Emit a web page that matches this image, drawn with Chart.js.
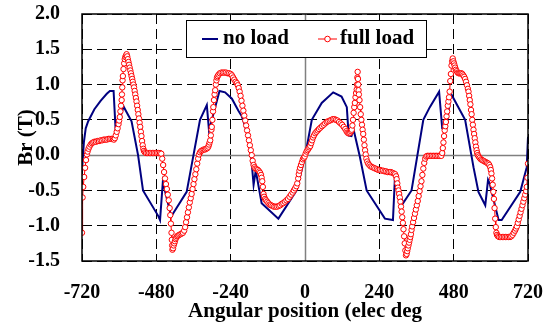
<!DOCTYPE html>
<html>
<head>
<meta charset="utf-8">
<script src="https://cdn.jsdelivr.net/npm/chart.js@4.4.0/dist/chart.umd.min.js"></script>
<style>
html,body{margin:0;padding:0;background:#fff;}
#wrap{width:552px;height:329px;}
</style>
</head>
<body>
<div id="wrap"><canvas id="c" width="552" height="329"></canvas></div>
<script>
// ---- data ----
const seriesNames = ['no load', 'full load'];
const xTicks = [-720, -480, -240, 0, 240, 480, 720];
const yTicks = [-1.5, -1.0, -0.5, 0.0, 0.5, 1.0, 1.5, 2.0];

const noLoadAngle = [-720,-714,-708,-700,-680,-660,-640,-630,-618,-611,-586,-575,-560,-539,-523,-474,-468,-459,-432,-382,
  -339,-317,-310,-276,-258,-236,-215,-204,-194,-177,-166,-159,-140,-86,-27,0,22,54,91,118,
  135,141,150,157,177,199,258,284,290,317,344,382,403,433,443,457,468,474,517,544,
  560,582,591,596,625,635,695,716,720];
const noLoadBr = [-0.22,0.18,0.38,0.48,0.65,0.77,0.87,0.91,0.91,0.32,0.69,0.60,0.48,0.00,-0.50,-0.86,-0.92,-0.38,-0.87,-0.52,
  0.50,0.71,0.35,0.91,0.89,0.80,0.63,0.55,0.42,0.14,-0.42,-0.22,-0.68,-0.90,-0.50,-0.02,0.50,0.74,0.89,0.83,
  0.68,0.28,0.27,0.36,-0.02,-0.50,-0.90,-0.92,-0.35,-0.68,-0.50,0.50,0.68,0.90,0.38,0.38,0.80,0.85,0.50,-0.17,
  -0.52,-0.71,-0.35,-0.40,-0.92,-0.92,-0.52,-0.17,0.26];

const fullLoadAngle = [
  -720,-718,-716,-713,-710,-707,-704,-702,-699,-696,-692,-688,-684,-680,-675,-670,-665,-660,-655,-650,
  -645,-640,-635,-630,-625,-620,-617,-614,-611,-608,-605,-602,-600,-598,-596,-594,-592,-591,-590,-589,
  -588,-586,-584,-582,-580,-578,-576,-574,-572,-570,-568,-566,-564,-562,-560,-558,-556,-554,-552,-550,
  -548,-546,-544,-542,-540,-538,-536,-534,-532,-530,-528,-526,-524,-522,-520,-517,-513,-508,-503,-498,
  -493,-488,-483,-478,-473,-468,-464,-461,-458,-455,-452,-449,-446,-443,-440,-437,-435,-433,-431,-430,
  -429,-428,-426,-424,-422,-420,-418,-416,-413,-410,-406,-402,-398,-394,-390,-387,-384,-381,-378,-375,
  -372,-369,-366,-363,-360,-357,-354,-351,-348,-345,-342,-339,-335,-331,-327,-323,-319,-315,-312,-310,
  -308,-306,-304,-302,-301,-299,-297,-296,-294,-292,-290,-288,-286,-284,-282,-279,-275,-270,-265,-260,
  -255,-250,-245,-240,-236,-232,-228,-224,-220,-217,-214,-211,-208,-205,-202,-199,-196,-193,-190,-187,
  -184,-181,-178,-175,-172,-169,-166,-163,-160,-156,-152,-148,-145,-142,-140,-138,-136,-134,-132,-129,
  -126,-122,-118,-114,-110,-105,-100,-95,-90,-85,-80,-75,-70,-65,-60,-55,-50,-45,-40,-36,
  -32,-28,-25,-22,-20,-18,-16,-13,-10,-7,-4,-1,2,5,8,11,14,17,20,23,
  26,29,33,37,41,45,50,55,60,65,70,75,80,85,90,95,100,105,110,115,
  120,125,130,134,137,140,143,146,149,151,153,155,157,159,161,163,165,167,168,169,
  170,171,172,173,174,176,178,180,182,184,186,188,190,192,194,196,198,201,204,208,
  212,217,222,227,232,237,242,247,252,257,262,267,272,277,282,287,291,294,296,298,
  300,302,304,306,308,310,312,314,316,318,320,322,324,326,328,330,332,334,336,338,
  340,342,344,346,349,352,355,358,361,364,367,370,373,376,379,382,385,388,391,395,
  400,405,410,415,420,425,430,435,440,443,445,447,449,451,453,455,457,459,461,463,
  465,467,469,471,473,475,477,479,481,483,485,487,490,493,496,499,502,505,508,511,
  514,517,520,523,526,528,530,532,534,536,538,540,542,544,546,548,550,552,554,556,
  558,561,564,568,572,576,580,584,588,592,595,598,600,602,604,606,608,610,612,614,
  616,618,620,623,627,632,637,642,647,652,657,662,666,670,674,678,681,684,687,690,
  693,696,699,702,705,708,711,714,716,718,720];
const fullLoadBr = [
  -1.10,-0.60,-0.45,-0.31,-0.18,-0.07,0.01,0.05,0.09,0.12,0.15,0.17,0.18,0.19,0.19,0.20,0.20,0.21,0.21,0.22,
  0.22,0.22,0.23,0.23,0.23,0.23,0.22,0.24,0.28,0.33,0.38,0.44,0.49,0.54,0.62,0.70,0.78,0.86,0.96,1.06,
  1.12,1.22,1.30,1.36,1.39,1.41,1.43,1.40,1.36,1.32,1.28,1.24,1.20,1.16,1.12,1.08,1.04,1.00,0.96,0.91,
  0.86,0.81,0.76,0.70,0.64,0.58,0.52,0.46,0.40,0.33,0.27,0.20,0.14,0.09,0.06,0.04,0.03,0.03,0.03,0.03,
  0.03,0.03,0.03,0.03,0.03,0.03,0.02,-0.05,-0.14,-0.24,-0.33,-0.41,-0.48,-0.56,-0.64,-0.75,-0.85,-0.97,-1.10,-1.20,
  -1.28,-1.34,-1.32,-1.28,-1.25,-1.22,-1.19,-1.17,-1.15,-1.14,-1.13,-1.12,-1.11,-1.10,-1.07,-1.02,-0.95,-0.88,-0.81,-0.74,
  -0.67,-0.61,-0.55,-0.48,-0.41,-0.34,-0.27,-0.20,-0.12,-0.05,0.01,0.04,0.06,0.07,0.08,0.08,0.09,0.10,0.12,0.15,
  0.18,0.21,0.28,0.36,0.40,0.50,0.62,0.68,0.78,0.86,0.92,1.00,1.06,1.10,1.12,1.14,1.16,1.17,1.17,1.17,
  1.17,1.16,1.16,1.15,1.13,1.10,1.07,1.04,1.02,0.99,0.95,0.90,0.84,0.77,0.70,0.63,0.56,0.49,0.42,0.35,
  0.28,0.21,0.14,0.07,0.00,-0.08,-0.14,-0.17,-0.19,-0.20,-0.21,-0.23,-0.25,-0.28,-0.32,-0.37,-0.45,-0.55,-0.59,-0.62,
  -0.64,-0.66,-0.68,-0.70,-0.71,-0.72,-0.73,-0.73,-0.73,-0.72,-0.71,-0.69,-0.68,-0.66,-0.64,-0.62,-0.59,-0.56,-0.53,-0.50,
  -0.47,-0.44,-0.40,-0.33,-0.27,-0.22,-0.18,-0.14,-0.10,-0.06,-0.04,-0.02,0.02,0.05,0.07,0.09,0.11,0.13,0.17,0.21,
  0.25,0.28,0.31,0.33,0.35,0.37,0.39,0.41,0.43,0.45,0.47,0.48,0.49,0.50,0.51,0.51,0.50,0.49,0.47,0.45,
  0.43,0.40,0.37,0.34,0.32,0.31,0.31,0.32,0.34,0.36,0.42,0.50,0.60,0.68,0.74,0.82,0.88,0.93,1.00,1.10,
  1.18,1.08,1.00,0.92,0.86,0.78,0.68,0.58,0.50,0.43,0.36,0.30,0.22,0.14,0.07,0.01,-0.05,-0.09,-0.12,-0.14,
  -0.16,-0.17,-0.18,-0.19,-0.20,-0.21,-0.21,-0.22,-0.22,-0.23,-0.23,-0.24,-0.24,-0.24,-0.25,-0.26,-0.27,-0.30,-0.34,-0.40,
  -0.46,-0.50,-0.55,-0.60,-0.66,-0.73,-0.80,-0.88,-0.96,-1.05,-1.15,-1.25,-1.35,-1.42,-1.40,-1.36,-1.32,-1.28,-1.24,-1.20,
  -1.16,-1.12,-1.06,-1.01,-0.95,-0.89,-0.83,-0.77,-0.71,-0.65,-0.58,-0.51,-0.44,-0.37,-0.28,-0.19,-0.11,-0.05,-0.02,-0.01,
  -0.01,-0.01,-0.01,-0.01,-0.01,-0.01,-0.01,-0.01,-0.01,0.03,0.10,0.18,0.27,0.35,0.41,0.47,0.55,0.62,0.70,0.76,
  0.82,0.90,1.05,1.15,1.27,1.33,1.37,1.33,1.30,1.27,1.24,1.21,1.19,1.17,1.16,1.16,1.16,1.16,1.15,1.13,
  1.11,1.08,1.04,0.99,0.94,0.90,0.84,0.78,0.72,0.64,0.58,0.50,0.43,0.36,0.30,0.24,0.18,0.12,0.07,0.03,
  0.00,-0.02,-0.04,-0.06,-0.07,-0.08,-0.09,-0.10,-0.11,-0.12,-0.14,-0.17,-0.21,-0.26,-0.33,-0.42,-0.52,-0.62,-0.75,-0.90,
  -1.02,-1.10,-1.13,-1.15,-1.16,-1.16,-1.16,-1.16,-1.16,-1.16,-1.16,-1.16,-1.15,-1.13,-1.10,-1.07,-1.04,-1.01,-0.96,-0.91,
  -0.86,-0.81,-0.76,-0.71,-0.66,-0.61,-0.56,-0.51,-0.45,-0.32,-0.12];

const xTitle = 'Angular position (elec deg';
const yTitle = 'Br (T)';

// ---- chart ----
const FONT = "'Liberation Serif', 'Times New Roman', serif";
const toXY = (xs, ys) => xs.map((v, i) => ({x: v, y: ys[i]}));

const decorPlugin = {
  id: 'decor',
  beforeDatasetsDraw(chart) {
    const {ctx, chartArea: a, scales: {x, y}} = chart;
    ctx.save();
    ctx.strokeStyle = '#808080';
    ctx.lineWidth = 1.5;
    const x0 = Math.round(x.getPixelForValue(0)) + 0.5;
    const y0 = Math.round(y.getPixelForValue(0)) + 0.5;
    ctx.beginPath();
    ctx.moveTo(x0, a.top); ctx.lineTo(x0, a.bottom);
    ctx.moveTo(a.left, y0); ctx.lineTo(a.right, y0);
    ctx.stroke();
    ctx.restore();
  },
  afterDatasetsDraw(chart) {
    const {ctx, chartArea: a} = chart;
    ctx.save();
    ctx.strokeStyle = '#000';
    ctx.lineWidth = 1.5;
    ctx.strokeRect(a.left, a.top, a.right - a.left, a.bottom - a.top);
    ctx.restore();
  },
  afterDraw(chart) {
    const {ctx} = chart;
    const ds = chart.data.datasets;
    ctx.save();
    const bx = 186.5, by = 20.5, bw = 240, bh = 37;
    ctx.fillStyle = '#fff';
    ctx.fillRect(bx, by, bw, bh);
    ctx.strokeStyle = '#000';
    ctx.lineWidth = 1;
    ctx.strokeRect(bx, by, bw, bh);
    const cy = 39;
    ctx.font = 'bold 21px ' + FONT;
    ctx.textBaseline = 'middle';
    ctx.fillStyle = '#000';
    ctx.strokeStyle = ds[0].borderColor;
    ctx.lineWidth = 2;
    ctx.beginPath(); ctx.moveTo(202, cy); ctx.lineTo(218, cy); ctx.stroke();
    ctx.fillText(ds[0].label, 223, cy);
    ctx.strokeStyle = ds[1].borderColor;
    ctx.lineWidth = 1;
    ctx.beginPath(); ctx.moveTo(318, cy); ctx.lineTo(337, cy); ctx.stroke();
    ctx.beginPath(); ctx.arc(327.5, cy, 2.8, 0, Math.PI * 2);
    ctx.fillStyle = '#fff'; ctx.fill(); ctx.stroke();
    ctx.fillStyle = '#000';
    ctx.fillText(ds[1].label, 340, cy);
    ctx.restore();
  }
};

const zeroPad = (s) => { s.paddingTop = 0; s.paddingBottom = 0; s.paddingLeft = 0; s.paddingRight = 0; };

new Chart(document.getElementById('c'), {
  type: 'line',
  data: {
    datasets: [
      {
        label: seriesNames[0],
        data: toXY(noLoadAngle, noLoadBr),
        borderColor: '#000080',
        borderWidth: 2,
        pointRadius: 0,
        tension: 0,
        order: 1
      },
      {
        label: seriesNames[1],
        data: toXY(fullLoadAngle, fullLoadBr),
        borderColor: '#ff0000',
        borderWidth: 1,
        pointRadius: 2.7,
        pointBorderWidth: 1,
        pointBackgroundColor: '#ffffff',
        pointBorderColor: '#ff0000',
        tension: 0,
        order: 0
      }
    ]
  },
  options: {
    responsive: false,
    animation: false,
    devicePixelRatio: 1,
    layout: {padding: {top: 14, right: 24, left: 0, bottom: 0}},
    plugins: {legend: {display: false}, tooltip: {enabled: false}},
    scales: {
      x: {
        type: 'linear',
        min: xTicks[0],
        max: xTicks[xTicks.length - 1],
        afterBuildTicks: (s) => { s.ticks = xTicks.map(v => ({value: v})); },
        afterFit: (s) => { s.height = 68; zeroPad(s); },
        ticks: {
          autoSkip: false, maxRotation: 0, padding: 20, color: '#000',
          font: {family: FONT, size: 20, weight: 'bold'}
        },
        grid: {
          drawTicks: false, lineWidth: 1,
          color: (c) => (c.tick && c.tick.value === 0) ? 'rgba(0,0,0,0)' : '#000'
        },
        border: {display: false, dash: [10, 5]},
        title: {
          display: true, text: xTitle, color: '#000',
          font: {family: FONT, size: 21, weight: 'bold'},
          padding: {top: 0, bottom: 5}
        }
      },
      y: {
        type: 'linear',
        min: yTicks[0],
        max: yTicks[yTicks.length - 1],
        afterBuildTicks: (s) => { s.ticks = yTicks.map(v => ({value: v})); },
        afterFit: (s) => { s.width = 82; zeroPad(s); },
        ticks: {
          padding: 22, color: '#000',
          font: {family: FONT, size: 20, weight: 'bold'},
          callback: (v) => Number(v).toFixed(1)
        },
        grid: {
          drawTicks: false, lineWidth: 1,
          color: (c) => (c.tick && c.tick.value === 0) ? 'rgba(0,0,0,0)' : '#000'
        },
        border: {display: false, dash: [10, 5]},
        title: {
          display: true, text: yTitle, color: '#000',
          font: {family: FONT, size: 21, weight: 'bold'},
          padding: {top: 14, bottom: 0}
        }
      }
    }
  },
  plugins: [decorPlugin]
});
</script>
</body>
</html>
